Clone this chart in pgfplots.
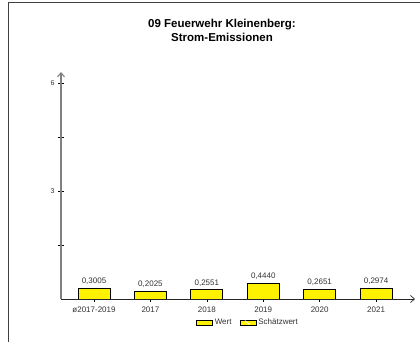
\documentclass[border=0pt]{standalone}
\usepackage{pgfplots}
\pgfplotsset{compat=1.18}
\usepackage{fontspec}
\setmainfont{Liberation Sans}
\usetikzlibrary{arrows.meta}
\definecolor{txt}{HTML}{333333}
\begin{document}
\begin{tikzpicture}[x=1pt,y=1pt]
\useasboundingbox (0,0) rectangle (420,342);
\draw[black!75, line width=0.8pt] (8,0) -- (8,340) -- (420,340);
\node[font=\bfseries\fontsize{11.5}{14}\selectfont, align=center] at (222,312) {09 Feuerwehr Kleinenberg:\\Strom-Emissionen};
\begin{axis}[
  at={(61pt,43pt)}, anchor=south west,
  scale only axis, width=354pt, height=227pt,
  xmin=-0.585, xmax=5.69, ymin=0, ymax=6.3,
  axis x line=bottom, axis y line=left,
  x axis line style={-{Straight Barb[length=4pt,width=7pt]}, black!85, line width=0.7pt},
  y axis line style={-{Straight Barb[length=4pt,width=7pt]}, black!50, line width=1.1pt},
  xtick={0,1,2,3,4,5},
  xticklabels={ø2017-2019,2017,2018,2019,2020,2021},
  ytick={1.5,3,4.5,6}, yticklabels={,3,,6},
  tick style={black, line width=0.6pt},
  tick align=center, major tick length=6pt,
  x tick label style={font=\fontsize{8}{9}\selectfont, text=txt, yshift=-1pt},
  y tick label style={font=\fontsize{7}{8}\selectfont, text=txt},
  /pgf/number format/assume math mode=true,
  nodes near coords,
  nodes near coords style={font=\fontsize{8}{9}\selectfont, text=txt,
    /pgf/number format/.cd, fixed, fixed zerofill, precision=4, use comma},
  legend style={at={(0.528,0)}, anchor=center, yshift=-23.7pt, draw=none, fill=none,
    font=\fontsize{8}{9}\selectfont, text=txt, legend columns=2,
    /tikz/every even column/.append style={column sep=6pt}},
]
\addplot[ybar, bar width=32pt, fill=yellow, draw=black, line width=0.8pt, forget plot] coordinates {
(0,0.3005) (1,0.2025) (2,0.2551) (3,0.4440) (4,0.2651) (5,0.2974)};
\addlegendimage{legend image code/.code={
  \draw[fill=yellow, draw=black, line width=0.8pt] (0pt,-2.5pt) rectangle (16pt,2.5pt);}}
\addlegendentry{Wert}
\addlegendimage{legend image code/.code={
  \draw[fill=yellow, draw=black, line width=0.8pt] (0pt,-2.5pt) rectangle (16pt,2.5pt);
  \draw[white, line width=0.9pt] (5pt,2.1pt) -- (10pt,-2.1pt);}}
\addlegendentry{Schätzwert}
\node[font=\fontsize{7}{8}\selectfont, text=txt, anchor=east] at (axis cs:-0.585,5.7) [xshift=-7pt] {t};
\end{axis}
\end{tikzpicture}
\end{document}
